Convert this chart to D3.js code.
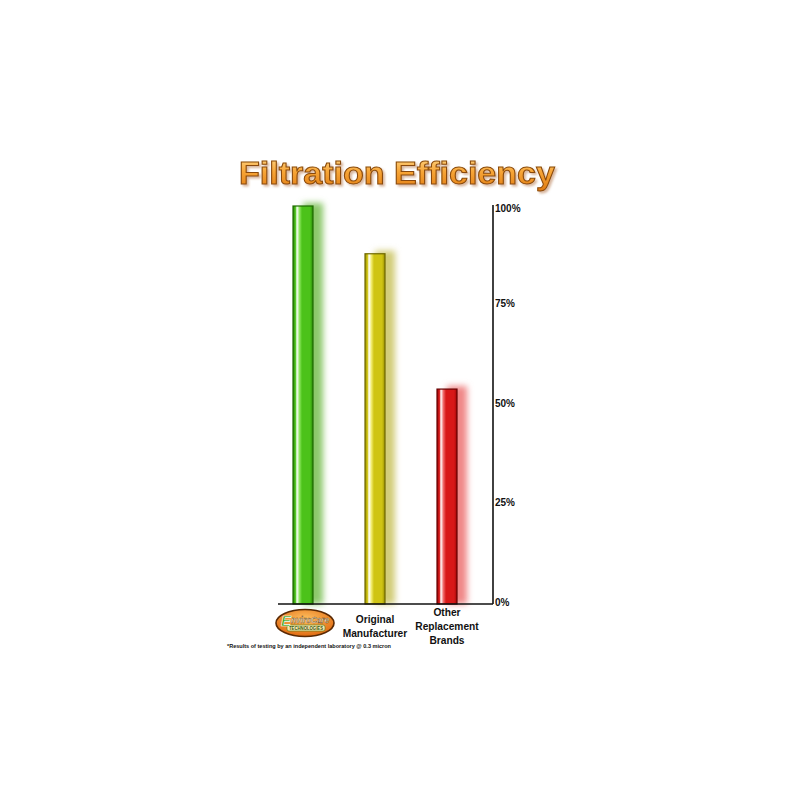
<!DOCTYPE html>
<html>
<head>
<meta charset="utf-8">
<script src="https://cdn.jsdelivr.net/npm/d3@7"></script>
<style>
  body { margin: 0; background: #fff; }
  svg { display: block; font-family: "Liberation Sans", Arial, sans-serif; }
  .y-axis text { font-size: 10px; font-weight: bold; fill: #111; }
  .catLabel { font-size: 10.2px; font-weight: bold; fill: #111; text-anchor: middle; }
</style>
</head>
<body>
<svg id="svgchart"></svg>
<script>
'use strict'

// data
const categories = ["EnviroCare", "Original Manufacturer", "Other Replacement Brands"]
const efficiency = [100, 88, 54]
const tickValues = [0, 25, 50, 75, 100]
const tickLabels = ["0%", "25%", "50%", "75%", "100%"]
const barColors = [
  {base: "#4cc21a", light: "#8fe860", dark: "#2a8a06", edge: "#1f6a00", glow: "#8cc86a"},
  {base: "#cfc413", light: "#f2ec70", dark: "#9a9000", edge: "#6e6800", glow: "#d2cc78"},
  {base: "#d81818", light: "#f06a6a", dark: "#a00808", edge: "#660000", glow: "#f08888"}
]

const width = 800, height = 800
const svg = d3.select('#svgchart').attr("width", width).attr("height", height)
const defs = svg.append("defs")

// x scale (bar centres) and y scale
const x = d3.scaleBand().domain(categories).range([267, 483]).padding(0)
const y = d3.scaleLinear().domain([0, 100]).range([604, 206])
const barWidth = 20

// blur filter for the glow next to each bar
defs.append("filter").attr("id", "glow").attr("x", "-100%").attr("y", "-10%").attr("width", "300%").attr("height", "120%")
  .append("feGaussianBlur").attr("stdDeviation", 3)

// title drop shadow
const ts = defs.append("filter").attr("id", "titleShadow").attr("x", "-5%").attr("y", "-20%").attr("width", "110%").attr("height", "150%")
ts.append("feDropShadow").attr("dx", 2).attr("dy", 2).attr("stdDeviation", 1.2)
  .attr("flood-color", "#b07040").attr("flood-opacity", 0.5)

// horizontal gradients for the glassy bars
barColors.forEach((c, i) => {
  const g = defs.append("linearGradient").attr("id", "barGrad" + i)
    .attr("x1", "0%").attr("x2", "100%").attr("y1", "0%").attr("y2", "0%")
  g.append("stop").attr("offset", "0%").attr("stop-color", c.dark)
  g.append("stop").attr("offset", "12%").attr("stop-color", c.base)
  g.append("stop").attr("offset", "20%").attr("stop-color", "#ffffff")
  g.append("stop").attr("offset", "32%").attr("stop-color", c.light)
  g.append("stop").attr("offset", "45%").attr("stop-color", c.base)
  g.append("stop").attr("offset", "85%").attr("stop-color", c.base)
  g.append("stop").attr("offset", "100%").attr("stop-color", c.dark)
})

const bars = svg.selectAll(".bar")
  .data(categories)
  .enter().append("g")
  .attr("class", "bar")
  .attr("transform", d => "translate(" + (x(d) + x.bandwidth() / 2 - barWidth / 2) + ",0)")

// glow to the right
bars.append("rect")
  .attr("x", 10)
  .attr("y", (d, i) => y(efficiency[i]) - 3)
  .attr("width", barWidth)
  .attr("height", (d, i) => y(0) - y(efficiency[i]) + 3)
  .attr("fill", (d, i) => barColors[i].glow)
  .attr("filter", "url(#glow)")

// the bar itself
bars.append("rect")
  .attr("x", 0)
  .attr("y", (d, i) => y(efficiency[i]))
  .attr("width", barWidth)
  .attr("height", (d, i) => y(0) - y(efficiency[i]))
  .attr("fill", (d, i) => "url(#barGrad" + i + ")")
  .attr("stroke", (d, i) => barColors[i].edge)
  .attr("stroke-width", 1.2)

// baseline
svg.append("line")
  .attr("x1", 278).attr("x2", 493)
  .attr("y1", y(0)).attr("y2", y(0))
  .attr("stroke", "#111").attr("stroke-width", 1.6)

// y axis on the right
const yAxis = svg.append("g")
  .attr("class", "y-axis")
  .attr("transform", "translate(493,0)")
  .call(d3.axisRight(y).tickValues(tickValues).tickSize(0).tickPadding(2)
    .tickFormat((d, i) => tickLabels[i]))
yAxis.select(".domain").attr("stroke", "#111").attr("stroke-width", 1.6)
  .attr("d", "M0," + (y(100) - 1) + "V" + y(0))
yAxis.selectAll("text").attr("dy", (d) => d === 100 ? "0.55em" : "0.1em")

// title
const tg = defs.append("linearGradient").attr("id", "titleGrad")
  .attr("x1", "0%").attr("x2", "0%").attr("y1", "0%").attr("y2", "100%")
tg.append("stop").attr("offset", "0%").attr("stop-color", "#ffd98a")
tg.append("stop").attr("offset", "45%").attr("stop-color", "#f7a537")
tg.append("stop").attr("offset", "100%").attr("stop-color", "#e07a10")
svg.append("text")
  .attr("x", 397).attr("y", 184)
  .attr("text-anchor", "middle")
  .attr("textLength", 316).attr("lengthAdjust", "spacingAndGlyphs")
  .style("font-size", "31px").style("font-weight", "bold")
  .attr("fill", "url(#titleGrad)")
  .attr("stroke", "#8a4a08").attr("stroke-width", 1)
  .attr("filter", "url(#titleShadow)")
  .text("Filtration Efficiency")

// category labels
const labelLines = [null, ["Original", "Manufacturer"], ["Other", "Replacement", "Brands"]]
const labelTop = [0, 623, 616]
labelLines.forEach((lines, i) => {
  if (!lines) return
  const t = svg.append("text").attr("class", "catLabel")
  lines.forEach((ln, j) => {
    t.append("tspan")
      .attr("x", x(categories[i]) + x.bandwidth() / 2)
      .attr("y", labelTop[i] + j * 14)
      .text(ln)
  })
})

// EnviroCare logo in place of the first label
const lx = x(categories[0]) + x.bandwidth() / 2 + 2, ly = 623
const lg = defs.append("radialGradient").attr("id", "logoGrad").attr("cx", "50%").attr("cy", "35%").attr("r", "65%")
lg.append("stop").attr("offset", "0%").attr("stop-color", "#ffc060")
lg.append("stop").attr("offset", "100%").attr("stop-color", "#e06a10")
svg.append("ellipse")
  .attr("cx", lx).attr("cy", ly).attr("rx", 29).attr("ry", 13.5)
  .attr("fill", "url(#logoGrad)").attr("stroke", "#5a2a04").attr("stroke-width", 1.6)
svg.append("rect")
  .attr("x", lx - 18).attr("y", ly + 2).attr("width", 38).attr("height", 6).attr("rx", 2)
  .attr("fill", "#f6e6b0").attr("stroke", "#4a7a10").attr("stroke-width", 0.6)
svg.append("text")
  .attr("x", lx + 1).attr("y", ly + 6.8).attr("text-anchor", "middle")
  .attr("textLength", 34).attr("lengthAdjust", "spacingAndGlyphs")
  .style("font-size", "5px").style("font-weight", "bold").attr("fill", "#3a5a10")
  .text("TECHNOLOGIES")
svg.append("text")
  .attr("x", lx - 24).attr("y", ly + 3)
  .style("font-size", "15px").style("font-weight", "bold").style("font-style", "italic")
  .attr("fill", "#3aa012").attr("stroke", "#fff").attr("stroke-width", 0.6)
  .text("E")
svg.append("text")
  .attr("x", lx - 14).attr("y", ly)
  .attr("textLength", 38).attr("lengthAdjust", "spacingAndGlyphs")
  .style("font-size", "9px").style("font-weight", "bold").style("font-style", "italic")
  .attr("fill", "#fff8e0").attr("stroke", "#4a2a00").attr("stroke-width", 0.35)
  .text("nviroCare")

// footnote
svg.append("text")
  .attr("x", 227).attr("y", 648)
  .attr("textLength", 164).attr("lengthAdjust", "spacingAndGlyphs")
  .style("font-size", "5.6px").style("font-weight", "bold").attr("fill", "#111")
  .text("*Results of testing by an independent laboratory @ 0.3 micron")
</script>
</body>
</html>
